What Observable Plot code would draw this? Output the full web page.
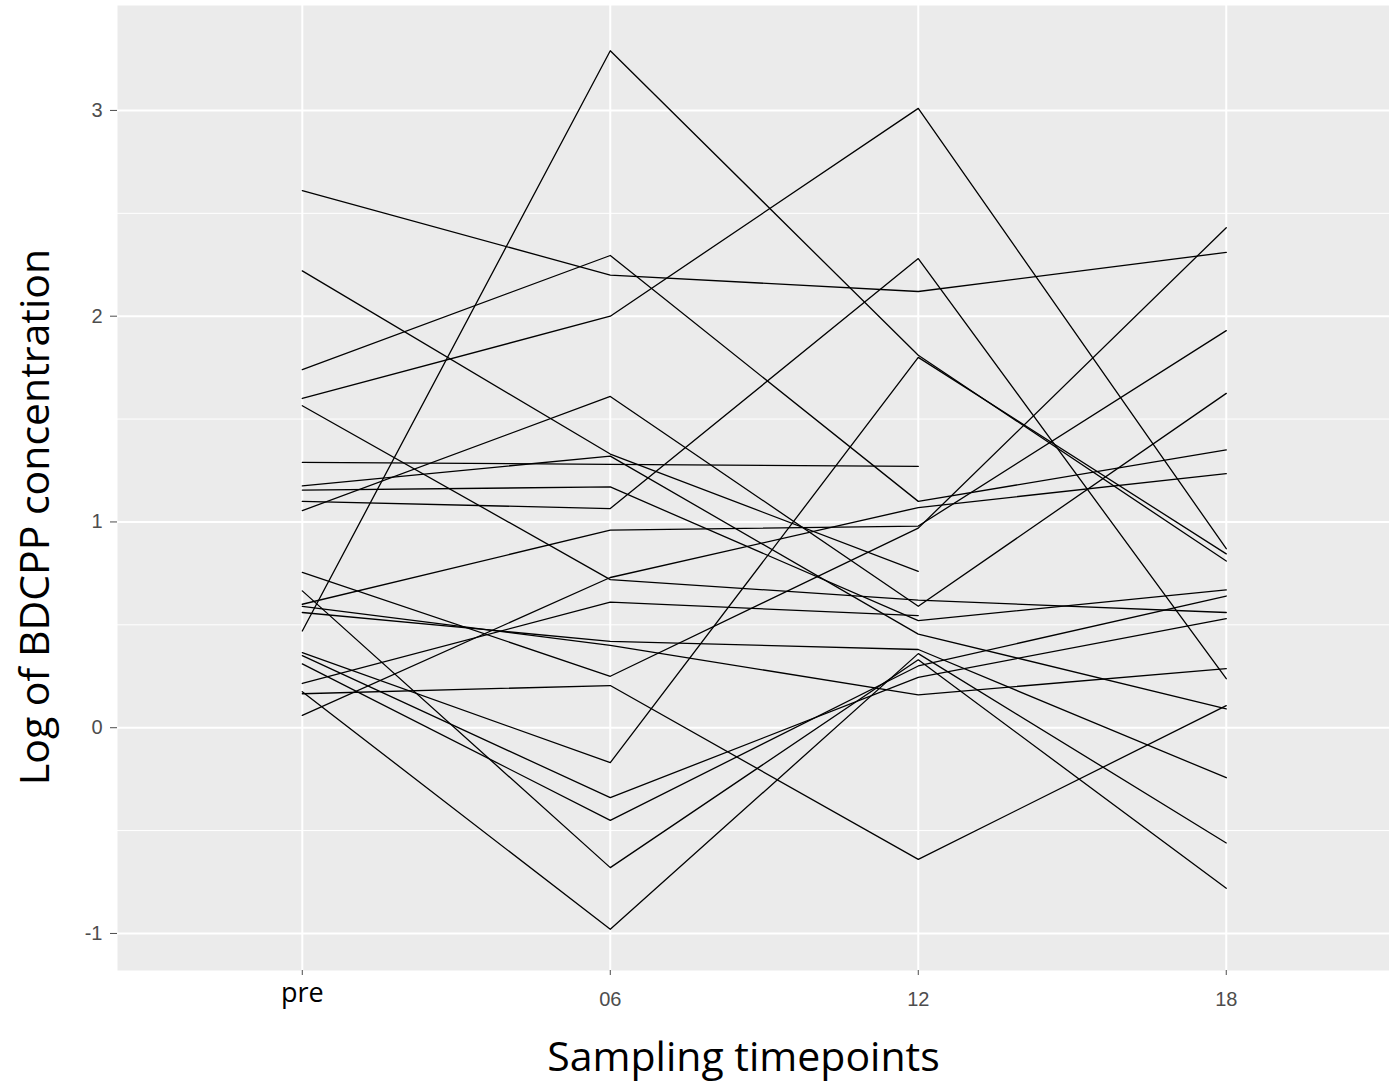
<!DOCTYPE html>
<html><head><meta charset="utf-8">
<script src="https://cdn.jsdelivr.net/npm/d3@7"></script>
<script src="https://cdn.jsdelivr.net/npm/@observablehq/plot@0.6"></script>
<style>
body{margin:0;background:#fff;}
svg{display:block}
g.pre-label text {font-size:27px !important;}
</style>
</head><body><div id="chart"></div>
<script>
const timepoints = ["pre", "06", "12", "18"];
const yTicks = [-1, 0, 1, 2, 3];
const yMinor = [-0.5, 0.5, 1.5, 2.5];
// one entry per subject, per sampling timepoint (null = not sampled)
const vPre = [2.61, 2.22, 1.74, 1.60, 1.565, 1.29, 1.175, 1.155, 1.10, 1.055, 0.755, 0.665, 0.60, 0.59, 0.56, 0.47, 0.365, 0.35, 0.31, 0.215, 0.175, 0.165, 0.06];
const v06  = [2.20, 1.33, 2.295, 2.00, 0.72, 1.28, 1.32, 1.17, 1.065, 1.61, 0.25, -0.68, 0.96, 0.40, 0.42, 3.29, -0.17, -0.34, -0.45, 0.61, -0.98, 0.205, 0.73];
const v12  = [2.12, 0.76, 1.10, 3.01, 0.62, 1.27, 0.455, 0.52, 2.28, 0.59, 0.97, 0.33, 0.98, 0.16, 0.38, 1.81, 1.80, 0.245, 0.30, 0.545, 0.36, -0.64, 1.07];
const v18  = [2.31, null, 1.35, 0.87, 0.56, null, 0.092, 0.67, 0.238, 1.625, 2.43, -0.78, 1.93, 0.287, -0.243, 0.81, 0.845, 0.53, 0.64, null, -0.56, 0.107, 1.235];

const series = [vPre, v06, v12, v18];
const data = [];
vPre.forEach((_, i) => series.forEach((arr, j) => {
  if (arr[i] != null) data.push({id: i, t: j, v: arr[i]});
}));

const chart = Plot.plot({
  width: 1389, height: 1085,
  marginLeft: 117, marginRight: 0, marginTop: 5, marginBottom: 115,
  x: {type: "linear", domain: [-0.6, 3.53]},
  y: {domain: [-1.18, 3.51]},
  style: {background: "#fff", fontFamily: "'Liberation Sans', Arial, sans-serif", fontSize: "20px"},
  marks: [
    Plot.frame({fill: "#EBEBEB", stroke: null}),
    Plot.gridY(yMinor, {stroke: "#fff", strokeOpacity: 1, strokeWidth: 1}),
    Plot.gridY(yTicks, {stroke: "#fff", strokeOpacity: 1, strokeWidth: 2}),
    Plot.gridX([0, 1, 2, 3], {stroke: "#fff", strokeOpacity: 1, strokeWidth: 2}),
    Plot.axisY(yTicks, {tickFormat: d => String(d), tickSize: 7, tickPadding: 8, fontSize: 20, color: "#4D4D4D", label: null}),
    Plot.axisX([1, 2, 3], {tickFormat: i => timepoints[i], tickSize: 5, tickPadding: 16, fontSize: 20, color: "#4D4D4D", label: null}),
    Plot.axisX([0], {tickFormat: i => timepoints[i], tickSize: 5, tickPadding: 7, fill: "#000", stroke: "#4D4D4D", fontFamily: "'Open Sans', sans-serif", label: null, className: "pre-label"}),
    Plot.line(data, {x: "t", y: "v", z: "id", stroke: "#000", strokeWidth: 1.3}),
    Plot.text(["Log of BDCPP concentration"], {frameAnchor: "left", rotate: -90, textAnchor: "middle", lineAnchor: "middle", dx: -82, dy: 29, fontSize: 41, fill: "#000", fontFamily: "'Open Sans', sans-serif"}),
    Plot.text(["Sampling timepoints"], {frameAnchor: "bottom", textAnchor: "middle", lineAnchor: "middle", dx: -10, dy: 87, fontSize: 41, fill: "#000", fontFamily: "'Open Sans', sans-serif"})
  ]
});
document.getElementById("chart").appendChild(chart);
</script>
</body></html>
